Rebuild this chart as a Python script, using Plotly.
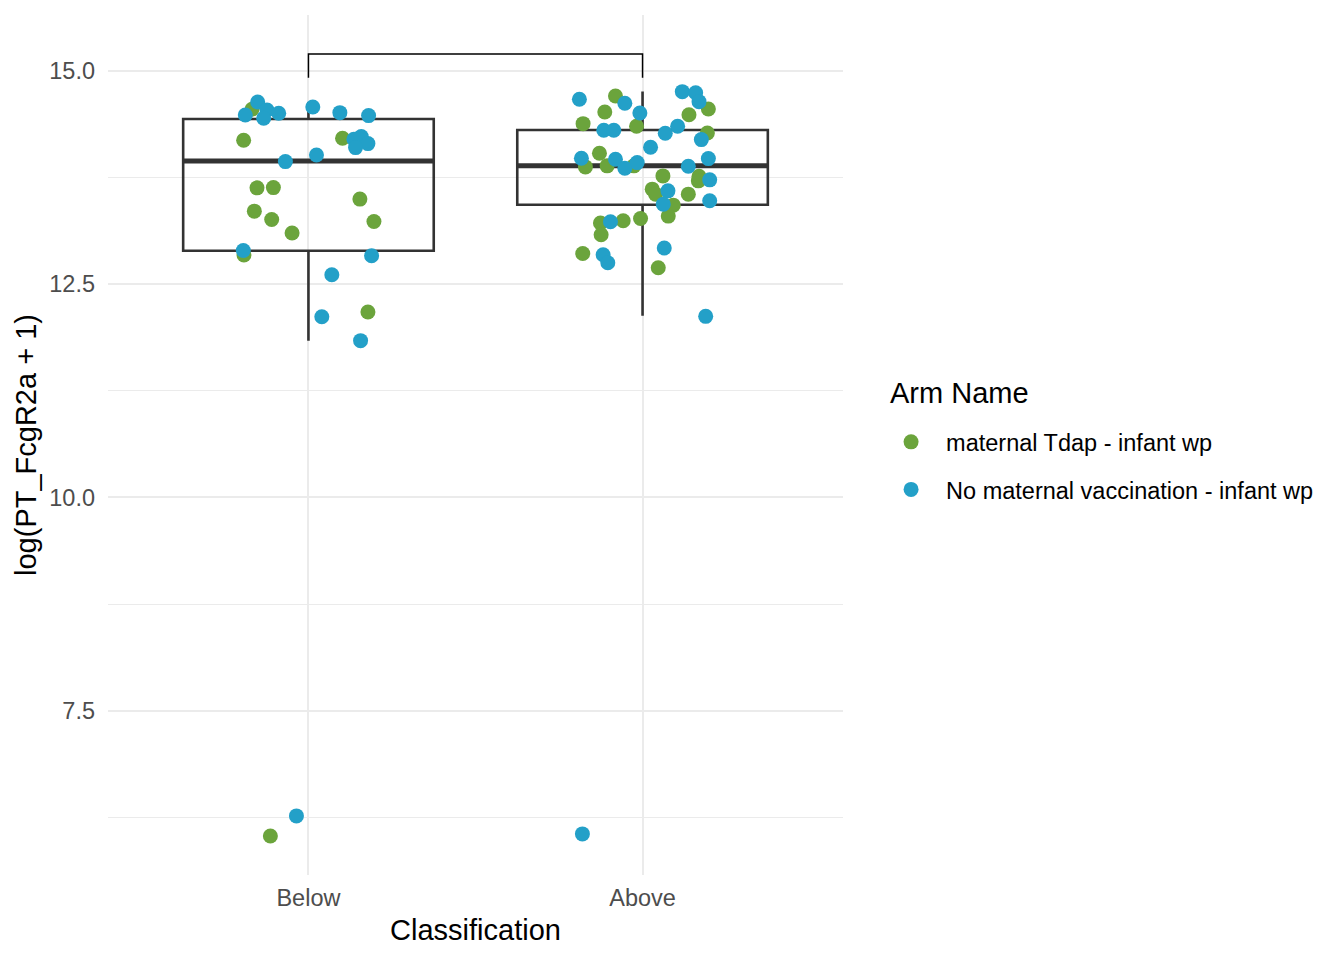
import plotly.graph_objects as go

# classification groups (x positions 1, 2)
groups = ["Below", "Above"]
arms = ["maternal Tdap - infant wp", "No maternal vaccination - infant wp"]
arm_colors = ["#6BA43C", "#23A0C8"]

# jittered points: (offset from group centre, log value)
below_tdap_dx = [-0.169, -0.194, 0.102, -0.154, -0.105, -0.162, -0.110, -0.049, 0.154, 0.196, -0.193, 0.178, -0.114]
below_tdap_y = [14.552, 14.189, 14.212, 13.630, 13.633, 13.357, 13.259, 13.100, 13.498, 13.235, 12.842, 12.174, 6.030]

below_none_dx = [-0.152, -0.189, -0.124, -0.134, -0.089, 0.013, 0.094, 0.180, 0.136, 0.158,
                 0.178, 0.141, -0.069, 0.024, -0.195, 0.189, 0.070, 0.040, 0.156, -0.036]
below_none_y = [14.637, 14.485, 14.543, 14.446, 14.505, 14.578, 14.512, 14.477, 14.200, 14.231,
                14.149, 14.102, 13.938, 14.016, 12.896, 12.834, 12.611, 12.119, 11.838, 6.265]

above_tdap_dx = [-0.081, -0.113, -0.178, -0.018, 0.197, 0.139, 0.194, -0.129, -0.171, -0.106,
                 -0.026, 0.061, 0.169, 0.167, 0.029, 0.039, 0.137, 0.092, 0.077, -0.006,
                 -0.058, -0.126, -0.124, -0.179, 0.047]
above_tdap_y = [14.707, 14.520, 14.383, 14.352, 14.555, 14.488, 14.274, 14.036, 13.876, 13.888,
                13.888, 13.770, 13.765, 13.712, 13.615, 13.556, 13.556, 13.427, 13.299, 13.271,
                13.244, 13.217, 13.080, 12.861, 12.693]

above_none_dx = [-0.189, -0.053, -0.008, -0.116, -0.086, 0.119, 0.159, 0.169, 0.105, 0.068,
                 0.176, 0.024, -0.183, -0.081, -0.053, -0.016, 0.137, 0.197, 0.201, 0.076,
                 0.062, 0.201, -0.096, 0.065, -0.118, -0.104, 0.189, -0.180]
above_none_y = [14.669, 14.622, 14.508, 14.306, 14.306, 14.758, 14.746, 14.641, 14.352, 14.270,
                14.196, 14.107, 13.978, 13.966, 13.861, 13.926, 13.884, 13.973, 13.724, 13.595,
                13.439, 13.478, 13.232, 12.924, 12.845, 12.752, 12.123, 6.054]

# box statistics (outliers hidden, as in the original)
box_q1 = [12.892, 13.431]
box_med = [13.946, 13.888]
box_q3 = [14.438, 14.309]
box_lo = [11.838, 12.131]
box_hi = [14.637, 14.760]

# comparison bracket
bracket_top = 15.199
bracket_tip = 14.92

FONT = "Liberation Sans, Arial, sans-serif"
BOXW = 0.75

fig = go.Figure()

fig.add_trace(go.Box(
    x=[1, 2], q1=box_q1, median=box_med, q3=box_q3,
    lowerfence=box_lo, upperfence=box_hi,
    width=BOXW, whiskerwidth=0, boxpoints=False,
    line=dict(color="#333333", width=2.6), fillcolor="rgba(0,0,0,0)",
    showlegend=False, hoverinfo="skip"))

# thicker median bar
for i, m in enumerate(box_med):
    c = i + 1
    fig.add_trace(go.Scatter(
        x=[c - BOXW / 2, c + BOXW / 2], y=[m, m], mode="lines",
        line=dict(color="#333333", width=5), showlegend=False, hoverinfo="skip"))

pts = {
    arms[0]: [(1, below_tdap_dx, below_tdap_y), (2, above_tdap_dx, above_tdap_y)],
    arms[1]: [(1, below_none_dx, below_none_y), (2, above_none_dx, above_none_y)],
}
for k, arm in enumerate(arms):
    xs, ys = [], []
    for c, dx, yv in pts[arm]:
        xs += [c + d for d in dx]
        ys += yv
    fig.add_trace(go.Scatter(
        x=xs, y=ys, mode="markers", name=arm, legendgroup=arm,
        marker=dict(color=arm_colors[k], size=15, line=dict(width=0)),
        hoverinfo="skip"))

fig.add_trace(go.Scatter(
    x=[1, 1, 2, 2], y=[bracket_tip, bracket_top, bracket_top, bracket_tip],
    mode="lines", line=dict(color="black", width=1.5),
    showlegend=False, hoverinfo="skip"))

# legend title as a separate label, like ggplot's spacing
fig.add_annotation(
    text="Arm Name", xref="paper", yref="paper", x=1.0612, y=0.5605,
    xanchor="left", yanchor="middle", showarrow=False,
    font=dict(size=29, color="black"))

fig.update_layout(
    width=1344, height=960,
    margin=dict(l=100, r=509, t=7, b=93),
    plot_bgcolor="white", paper_bgcolor="white",
    font=dict(family=FONT, color="black"),
    legend=dict(
        font=dict(size=23.5, color="black"),
        x=1.045, xanchor="left", y=0.529, yanchor="top",
        tracegroupgap=14, itemwidth=60),
)
fig.update_xaxes(
    range=[0.4, 2.6], tickvals=[1, 2], ticktext=groups,
    showgrid=True, gridcolor="#EBEBEB", gridwidth=2, zeroline=False,
    showline=False, ticks="", ticklabelstandoff=6,
    tickfont=dict(size=23.5, color="#4D4D4D"),
    title=dict(text="Classification", font=dict(size=29, color="black"), standoff=10))
fig.update_yaxes(
    range=[5.572, 15.657], tickvals=[7.5, 10.0, 12.5, 15.0], tickformat=".1f",
    showgrid=True, gridcolor="#EBEBEB", gridwidth=2, zeroline=False,
    minor=dict(tickvals=[6.25, 8.75, 11.25, 13.75], showgrid=True, gridcolor="#EBEBEB", gridwidth=1),
    showline=False, ticks="", ticklabelstandoff=12,
    tickfont=dict(size=23.5, color="#4D4D4D"),
    title=dict(text="log(PT_FcgR2a + 1)", font=dict(size=29, color="black"), standoff=4))

fig.write_html("out.html")
